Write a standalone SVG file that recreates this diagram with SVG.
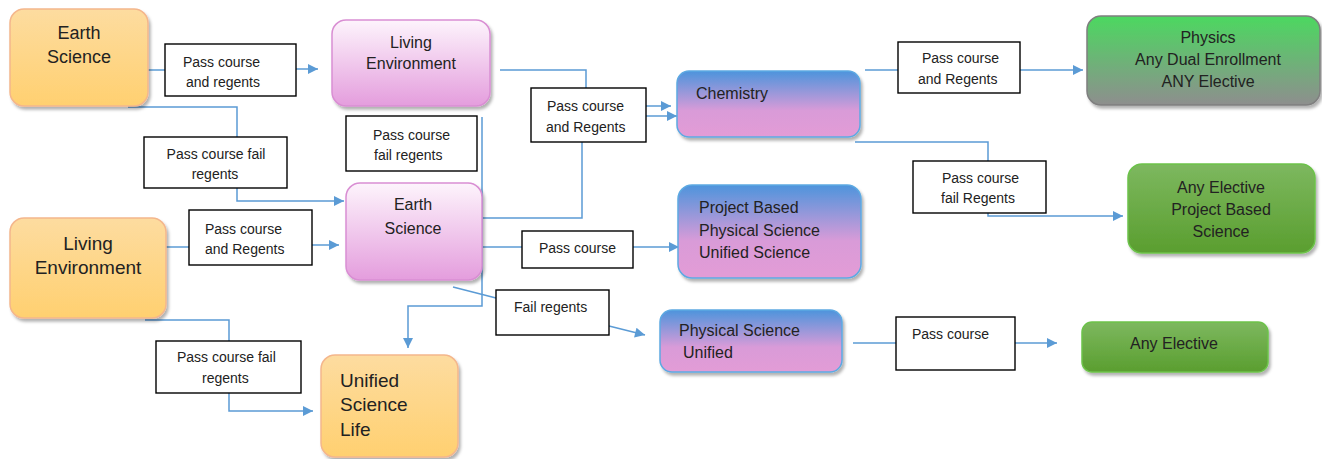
<svg xmlns="http://www.w3.org/2000/svg" width="1322" height="459" viewBox="0 0 1322 459">
<defs>
<linearGradient id="gOrange" x1="0" y1="0" x2="0" y2="1"><stop offset="0" stop-color="#FDDCA0"/><stop offset="1" stop-color="#FFD070"/></linearGradient>
<linearGradient id="gPink" x1="0" y1="0" x2="0" y2="1"><stop offset="0" stop-color="#FDF4FC"/><stop offset="1" stop-color="#E49DDD"/></linearGradient>
<linearGradient id="gBlue" x1="0" y1="0" x2="0" y2="1"><stop offset="0" stop-color="#4D94DC"/><stop offset="0.6" stop-color="#D99BD8"/><stop offset="1" stop-color="#E39CD6"/></linearGradient>
<linearGradient id="gPhys" x1="0" y1="0" x2="0" y2="1"><stop offset="0" stop-color="#4CD860"/><stop offset="1" stop-color="#8E8E8E"/></linearGradient>
<linearGradient id="gGreen" x1="0" y1="0" x2="0" y2="1"><stop offset="0" stop-color="#7DB85F"/><stop offset="1" stop-color="#5A9E2F"/></linearGradient>
<filter id="sh" x="-10%" y="-10%" width="130%" height="140%"><feDropShadow dx="2" dy="3" stdDeviation="1.5" flood-color="#000" flood-opacity="0.3"/></filter>
<marker id="arr" viewBox="0 0 10 10" refX="10" refY="5" markerWidth="12" markerHeight="10" markerUnits="userSpaceOnUse" orient="auto"><path d="M0,0 L10,5 L0,10 z" fill="#5B9BD5"/></marker>
<style>
.orange{fill:url(#gOrange);stroke:#F4B68C;stroke-width:1.5;filter:url(#sh)}
.pink{fill:url(#gPink);stroke:#D98ED3;stroke-width:1.5;filter:url(#sh)}
.blue{fill:url(#gBlue);stroke:#5DA9E2;stroke-width:1.5;filter:url(#sh)}
.phys{fill:url(#gPhys);stroke:#7F7F7F;stroke-width:1.5;filter:url(#sh)}
.green{fill:url(#gGreen);stroke:#6CC24A;stroke-width:1.5;filter:url(#sh)}
.lbl{fill:#fff;stroke:#000;stroke-width:1.4}
text{font-family:"Liberation Sans",Arial,sans-serif;fill:#222}
.n{font-size:16px}
.nb{font-size:18px}
.nl{font-size:19px}
.t{font-size:14px}
.c{text-anchor:middle}
.conn path{fill:none;stroke:#5B9BD5;stroke-width:1.5}
.conn path.a{marker-end:url(#arr)}
</style>
</defs>
<rect width="1322" height="459" fill="#fff"/>

<g id="connectors" class="conn">
<path d="M148,70 H165"/><path class="a" d="M296,69 H318"/>
<path d="M128,107 H237 V137"/><path class="a" d="M237,188 V201 H344"/>
<path d="M166,247 H189"/><path class="a" d="M312,245 H339"/>
<path d="M145,320 H229 V341"/><path class="a" d="M229,393 V411 H313"/>
<path d="M500,70 H586 V88"/><path class="a" d="M646,106 H671"/><path class="a" d="M646,116 H677"/>
<path d="M582,142 V218 H482"/>
<path class="a" d="M482,117 V306 H408 V348"/>
<path d="M478,247 H522"/><path class="a" d="M633,247 H679"/>
<path d="M453,287 L496,298"/><path class="a" d="M609,326 L645,335"/>
<path d="M865,70 H898"/><path class="a" d="M1020,70 H1083"/>
<path d="M855,142 H988 V161"/><path class="a" d="M988,213 V216 H1123"/>
<path d="M853,343 H896"/><path class="a" d="M1015,343 H1057"/>
</g>

<g id="n-earth1"><rect class="orange" x="10" y="9" width="138" height="97" rx="14"/><text class="nb c" x="79" y="39">Earth</text><text class="nb c" x="79" y="63">Science</text></g>
<g id="n-living1"><rect class="pink" x="332" y="20" width="158" height="86" rx="14"/><text class="n c" x="411" y="48">Living</text><text class="n c" x="411" y="69">Environment</text></g>
<g id="n-earth2"><rect class="pink" x="346" y="183" width="136" height="97" rx="14"/><text class="n c" x="413" y="210">Earth</text><text class="n c" x="413" y="234">Science</text></g>
<g id="n-living2"><rect class="orange" x="10" y="218" width="156" height="100" rx="14"/><text class="nl c" x="88" y="250">Living</text><text class="nl c" x="88" y="274">Environment</text></g>
<g id="n-unified-life"><rect class="orange" x="321" y="355" width="137" height="102" rx="14"/><text class="nl" x="340" y="387">Unified</text><text class="nl" x="340" y="411">Science</text><text class="nl" x="340" y="436">Life</text></g>
<g id="n-chem"><rect class="blue" x="677" y="71" width="183" height="66" rx="12"/><text class="n" x="696" y="99">Chemistry</text></g>
<g id="n-project"><rect class="blue" x="678" y="185" width="183" height="93" rx="14"/><text class="n" x="699" y="213">Project Based</text><text class="n" x="699" y="236">Physical Science</text><text class="n" x="699" y="258">Unified Science</text></g>
<g id="n-physunified"><rect class="blue" x="660" y="310" width="182" height="62" rx="12"/><text class="n" x="679" y="336">Physical Science</text><text class="n" x="683" y="358">Unified</text></g>
<g id="n-physics"><rect class="phys" x="1087" y="16" width="233" height="89" rx="14"/><text class="n c" x="1208" y="43">Physics</text><text class="n c" x="1208" y="65">Any Dual Enrollment</text><text class="n c" x="1208" y="87">ANY Elective</text></g>
<g id="n-elective-pbs"><rect class="green" x="1128" y="164" width="187" height="89" rx="14"/><text class="n c" x="1221" y="193">Any Elective</text><text class="n c" x="1221" y="215">Project Based</text><text class="n c" x="1221" y="237">Science</text></g>
<g id="n-elective"><rect class="green" x="1082" y="322" width="186" height="50" rx="10"/><text class="n c" x="1174" y="349">Any Elective</text></g>

<g id="l-a"><rect class="lbl" x="165" y="44" width="131" height="52"/><text class="t" x="183" y="67">Pass course</text><text class="t" x="186" y="87">and regents</text></g>
<g id="l-b"><rect class="lbl" x="144" y="137" width="143" height="51"/><text class="t c" x="216" y="159">Pass course fail</text><text class="t c" x="215" y="179">regents</text></g>
<g id="l-c"><rect class="lbl" x="346" y="116" width="131" height="55"/><text class="t" x="373" y="140">Pass course</text><text class="t" x="374" y="160">fail regents</text></g>
<g id="l-d"><rect class="lbl" x="531" y="88" width="115" height="54"/><text class="t" x="547" y="111">Pass course</text><text class="t" x="546" y="132">and Regents</text></g>
<g id="l-e"><rect class="lbl" x="898" y="42" width="122" height="51"/><text class="t" x="922" y="63">Pass course</text><text class="t" x="918" y="84">and Regents</text></g>
<g id="l-f"><rect class="lbl" x="913" y="161" width="133" height="52"/><text class="t" x="942" y="183">Pass course</text><text class="t" x="941" y="203">fail Regents</text></g>
<g id="l-g"><rect class="lbl" x="189" y="210" width="123" height="55"/><text class="t" x="205" y="234">Pass course</text><text class="t" x="205" y="254">and Regents</text></g>
<g id="l-h"><rect class="lbl" x="156" y="341" width="145" height="52"/><text class="t" x="177" y="362">Pass course fail</text><text class="t" x="202" y="383">regents</text></g>
<g id="l-i"><rect class="lbl" x="522" y="231" width="111" height="37"/><text class="t" x="539" y="253">Pass course</text></g>
<g id="l-j"><rect class="lbl" x="496" y="290" width="113" height="45"/><text class="t" x="514" y="312">Fail regents</text></g>
<g id="l-k"><rect class="lbl" x="896" y="317" width="119" height="53"/><text class="t" x="912" y="339">Pass course</text></g>
</svg>
